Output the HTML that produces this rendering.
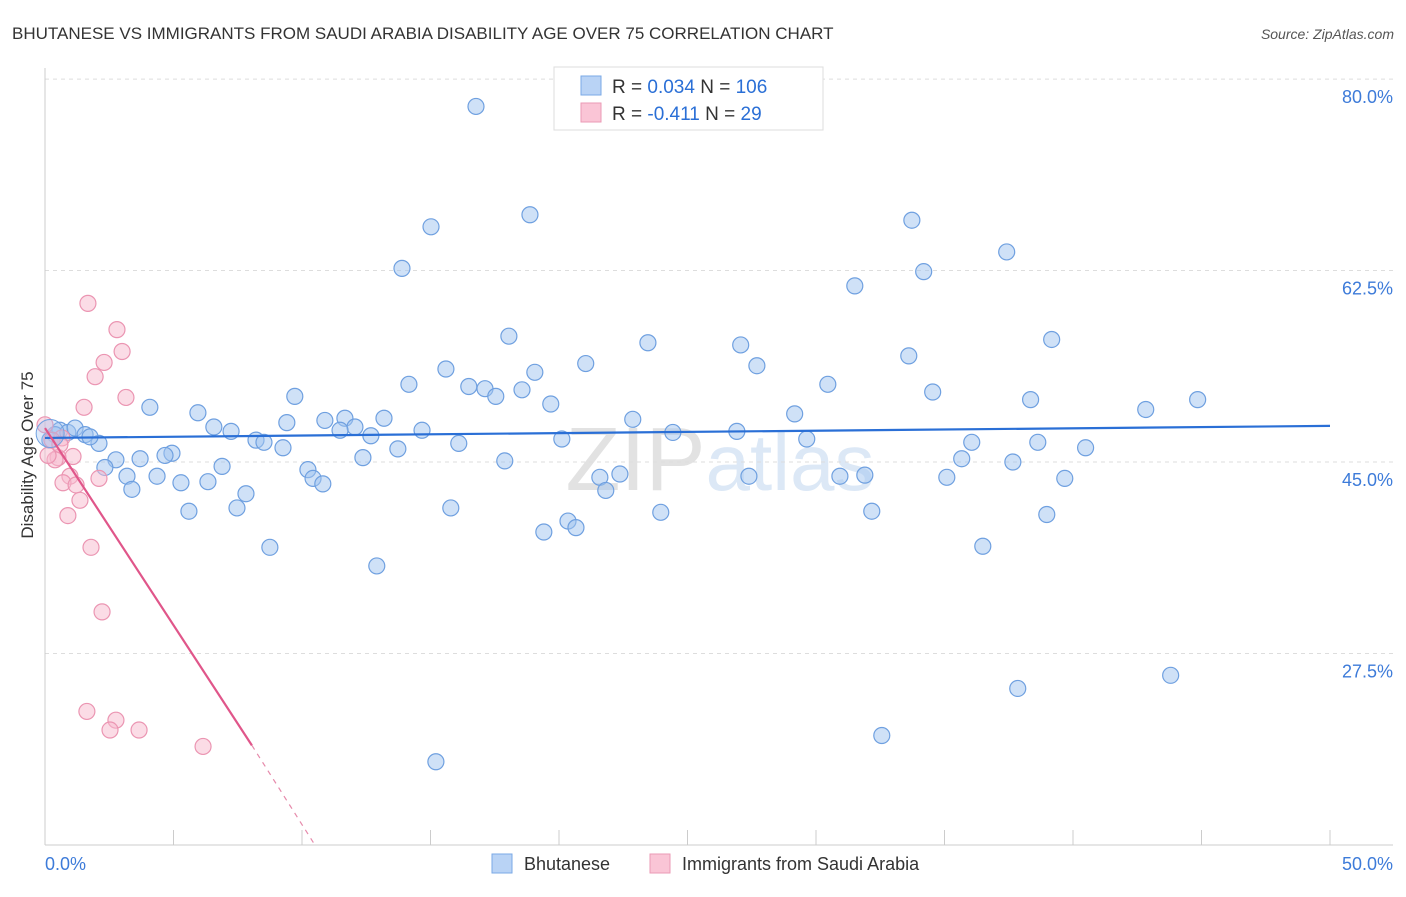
<!DOCTYPE html>
<html><head><meta charset="utf-8"><style>
body{margin:0;background:#fff;font-family:"Liberation Sans",sans-serif}
svg text{font-family:"Liberation Sans",sans-serif}
</style></head><body>
<svg width="1406" height="892" viewBox="0 0 1406 892" xmlns="http://www.w3.org/2000/svg">
<text x="12" y="39" font-size="17" fill="#333">BHUTANESE VS IMMIGRANTS FROM SAUDI ARABIA DISABILITY AGE OVER 75 CORRELATION CHART</text>
<text x="1394" y="39" font-size="14" fill="#555" text-anchor="end" font-style="italic">Source: ZipAtlas.com</text>
<text x="720" y="490" font-size="90" fill="#e8e8e8" text-anchor="middle" font-family="Liberation Serif"><tspan fill="#e2e2e2">ZIP</tspan><tspan fill="#dce8f6" font-family="Liberation Sans" font-size="80">atlas</tspan></text>
<g id="grid"></g>
<g id="axes"></g>
<g id="marks"></g>
<text transform="translate(33,455) rotate(-90)" font-size="17" fill="#333" text-anchor="middle">Disability Age Over 75</text>
<g>
<rect x="554" y="67" width="269" height="63" fill="#fff" stroke="#ddd"/>
<rect x="581" y="76" width="20" height="19" fill="#b9d3f5" stroke="#7aa8e6"/>
<rect x="581" y="103" width="20" height="19" fill="#fac5d6" stroke="#eb9ab5"/>
<text x="612" y="93" font-size="19" fill="#333">R = <tspan fill="#2a6fd6">0.034</tspan>   N = <tspan fill="#2a6fd6">106</tspan></text>
<text x="612" y="120" font-size="19" fill="#333">R = <tspan fill="#2a6fd6">-0.411</tspan>   N = <tspan fill="#2a6fd6">  29</tspan></text>
</g>
<g>
<rect x="492" y="854" width="20" height="19" fill="#b9d3f5" stroke="#7aa8e6"/>
<text x="524" y="870" font-size="18" fill="#333">Bhutanese</text>
<rect x="650" y="854" width="20" height="19" fill="#fac5d6" stroke="#eb9ab5"/>
<text x="682" y="870" font-size="18" fill="#333">Immigrants from Saudi Arabia</text>
</g>
</svg>
<script>
const yTicks=[80,62.5,45,27.5];
const yTickLabels=["80.0%","62.5%","45.0%","27.5%"];
const xTicks=[0,5,10,15,20,25,30,35,40,45,50];
const blueX=[16.77,18.87,15.02,33.73,37.42,13.89,34.19,31.51,18.05,23.46,27.07,39.17,33.61,21.04,27.70,15.60,19.06,14.16,16.49,17.12,18.56,30.46,34.54,17.54,9.72,38.35,44.85,19.68,4.08,42.83,5.95,29.17,13.19,10.89,11.67,9.41,22.87,6.57,12.06,11.48,7.24,14.67,12.68,26.92,24.43,20.11,8.21,8.52,29.64,36.06,38.63,2.10,16.10,9.26,13.73,40.49,4.94,4.67,12.37,17.89,2.76,3.70,35.67,37.66,6.89,10.23,2.33,3.19,4.36,10.43,21.59,22.37,27.39,30.93,31.90,35.09,39.68,5.29,6.34,10.81,3.38,21.82,7.82,15.79,5.60,7.47,23.96,32.17,38.98,20.35,20.66,19.41,8.75,36.49,12.91,37.85,43.80,32.56,15.21,0.58,0.39,0.89,1.17,1.56,1.75,0.19];
const blueY=[77.5,67.6,66.5,67.1,64.2,62.7,62.4,61.1,56.5,55.9,55.7,56.2,54.7,54.0,53.8,53.5,53.2,52.1,51.9,51.7,51.6,52.1,51.4,51.0,51.0,50.7,50.7,50.3,50.0,49.8,49.5,49.4,49.0,48.8,49.0,48.6,48.9,48.2,48.2,47.9,47.8,47.9,47.4,47.8,47.7,47.1,47.0,46.8,47.1,46.8,46.8,46.7,46.7,46.3,46.2,46.3,45.8,45.6,45.4,45.1,45.2,45.3,45.3,45.0,44.6,44.3,44.5,43.7,43.7,43.5,43.6,43.9,43.7,43.7,43.8,43.6,43.5,43.1,43.2,43.0,42.5,42.4,42.1,40.8,40.5,40.8,40.4,40.5,40.2,39.6,39.0,38.6,37.2,37.3,35.5,24.3,25.5,20.0,17.6,47.9,47.5,47.7,48.1,47.5,47.3,47.0];
const pinkX=[1.67,2.80,3.00,2.30,1.95,3.15,1.52,0,0.66,0.27,0.51,1.09,0.39,0.97,2.10,0.70,1.21,1.36,0.89,1.79,2.22,1.63,2.76,2.53,3.66,6.15,0.12,0.58];
const pinkY=[59.5,57.1,55.1,54.1,52.8,50.9,50.0,48.4,47.2,47.0,45.4,45.5,45.2,43.7,43.5,43.1,42.9,41.5,40.1,37.2,31.3,22.2,21.4,20.5,20.5,19.0,45.6,46.6];
const blueTrend=[[0,47.2],[50,48.3]];
const pinkTrend=[[0,48.1],[8.05,19.1]];
const pinkTrendExt=[[8.05,19.1],[10.5,10.0]];
const NS="http://www.w3.org/2000/svg";
const X=v=>45+v/50*1285;
const Y=v=>462-(v-45)*10.94;
function mk(tag,attrs,parent){const e=document.createElementNS(NS,tag);for(const k in attrs)e.setAttribute(k,attrs[k]);document.getElementById(parent).appendChild(e);return e;}
yTicks.forEach((t,i)=>{
 const l=mk('line',{x1:45,x2:1393,y1:Y(t),y2:Y(t),stroke:'#ddd','stroke-dasharray':'4,4'},'grid');
 
 
 const tx=mk('text',{x:1393,y:Y(t)+24,'font-size':18,fill:'#3d7bd9','text-anchor':'end'},'grid');
 tx.textContent=yTickLabels[i];
 
 
});
const ya=mk('line',{x1:45,x2:45,y1:68,y2:845,stroke:'#ccc'},'axes');


const xa=mk('line',{x1:45,x2:1393,y1:845,y2:845,stroke:'#ccc'},'axes');


xTicks.forEach(t=>{
 const l=mk('line',{x1:X(t),x2:X(t),y1:830,y2:845,stroke:'#ccc'},'axes');
 
 
});
const xl0=mk('text',{x:45,y:870,'font-size':18,fill:'#3d7bd9'},'axes');xl0.textContent='0.0%';


const xl1=mk('text',{x:1393,y:870,'font-size':18,fill:'#3d7bd9','text-anchor':'end'},'axes');xl1.textContent='50.0%';


blueX.forEach((v,i)=>{
 const c=mk('circle',{cx:X(v),cy:Y(blueY[i]),r:8,fill:'rgba(160,195,240,0.5)',stroke:'#6fa0e0','stroke-width':1.2},'marks');
 
 
});
pinkX.forEach((v,i)=>{
 const c=mk('circle',{cx:X(v),cy:Y(pinkY[i]),r:8,fill:'rgba(248,185,205,0.5)',stroke:'#eb95b2','stroke-width':1.2},'marks');
 
 
});
const big=mk('circle',{cx:X(0.2),cy:Y(47.6),r:14,fill:'rgba(160,195,240,0.35)',stroke:'#6fa0e0'},'marks');


const bt=mk('line',{x1:X(blueTrend[0][0]),y1:Y(blueTrend[0][1]),x2:X(blueTrend[1][0]),y2:Y(blueTrend[1][1]),stroke:'#2a6fd6','stroke-width':2.2},'marks');


const pt=mk('line',{x1:X(pinkTrend[0][0]),y1:Y(pinkTrend[0][1]),x2:X(pinkTrend[1][0]),y2:Y(pinkTrend[1][1]),stroke:'#e0568a','stroke-width':2.2},'marks');


const pe=mk('line',{x1:X(pinkTrendExt[0][0]),y1:Y(pinkTrendExt[0][1]),x2:X(pinkTrendExt[1][0]),y2:Y(pinkTrendExt[1][1]),stroke:'#e68aab','stroke-width':1.2,'stroke-dasharray':'5,5'},'marks');


</script>
</body></html>
